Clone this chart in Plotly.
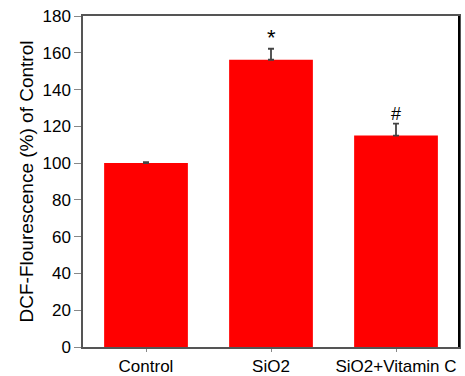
import plotly.graph_objects as go

categories = ["Control", "SiO2", "SiO2+Vitamin C"]
values = [100, 156.2, 115.0]
errors = [0.5, 6.0, 6.5]
markers = ["", "*", "#"]
marker_sizes = [0, 22, 18]
y_ticks = [0, 20, 40, 60, 80, 100, 120, 140, 160, 180]

fig = go.Figure()
fig.add_trace(go.Bar(
    x=categories, y=values,
    marker=dict(color="#ff0000", line=dict(width=0)),
    width=0.67,
    error_y=dict(type="data", symmetric=False, array=errors, arrayminus=[0]*3,
                 color="#444444", thickness=1.8, width=3),
))

for c, v, e, m, s in zip(categories, values, errors, markers, marker_sizes):
    if m:
        fig.add_annotation(x=c, y=v + e, text=m, showarrow=False, yanchor="bottom",
                           yshift=-3 if m == "*" else -2, font=dict(size=s, color="black"))

fig.add_shape(type="line", xref="paper", yref="paper", x0=1, x1=1, y0=0, y1=1,
              line=dict(color="black", width=2))

fig.update_layout(
    width=465, height=376,
    margin=dict(l=83, r=6, t=16, b=29),
    plot_bgcolor="white", paper_bgcolor="white",
    font=dict(family="Liberation Sans, Arial, sans-serif", size=17, color="black"),
    showlegend=False,
    xaxis=dict(range=[-0.504, 2.504], showline=True, linecolor="#555555", linewidth=1.5,
               mirror=True, ticks="outside", ticklen=3, tickcolor="#888888",
               showgrid=False, tickfont=dict(size=17), automargin=False),
    yaxis=dict(range=[0, 180], tickvals=y_ticks, showline=True, linecolor="#555555",
               linewidth=1.5, mirror=True, ticks="outside", ticklen=7, tickcolor="#888888",
               showgrid=False, zeroline=False, tickfont=dict(size=17), automargin=False,
               title=dict(text="DCF-Flourescence (%) of Control", font=dict(size=19), standoff=4)),
)

fig.write_html("out.html")
